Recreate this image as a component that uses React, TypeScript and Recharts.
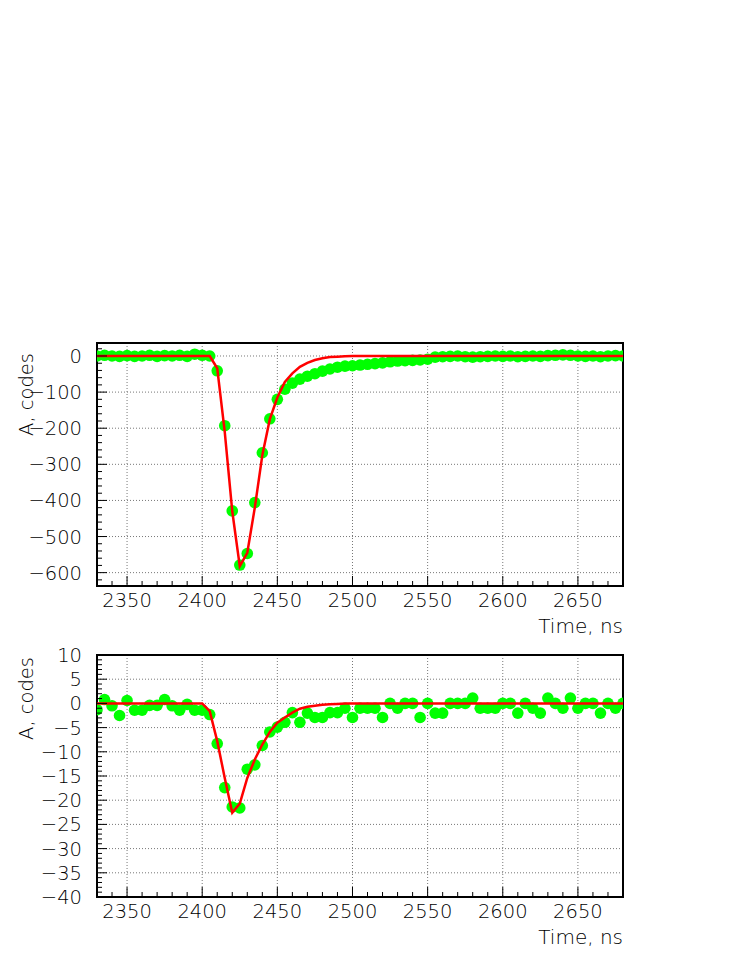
import React from "react";
import {
  CartesianGrid,
  ComposedChart,
  Label,
  Line,
  ReferenceArea,
  Scatter,
  XAxis,
  YAxis,
} from "recharts";

const FONT = "'DejaVu Sans', sans-serif";

// sample times, ns
const timeNs = [
  2330, 2335, 2340, 2345, 2350, 2355, 2360, 2365, 2370, 2375,
  2380, 2385, 2390, 2395, 2400, 2405, 2410, 2415, 2420, 2425,
  2430, 2435, 2440, 2445, 2450, 2455, 2460, 2465, 2470, 2475,
  2480, 2485, 2490, 2495, 2500, 2505, 2510, 2515, 2520, 2525,
  2530, 2535, 2540, 2545, 2550, 2555, 2560, 2565, 2570, 2575,
  2580, 2585, 2590, 2595, 2600, 2605, 2610, 2615, 2620, 2625,
  2630, 2635, 2640, 2645, 2650, 2655, 2660, 2665, 2670, 2675,
  2680,
];

// upper panel: measured amplitude and fit
const topAmp = [
  0, 2, 0, -1, 1, -1, 0, 2, -1, 1,
  0, 2, -1, 5, 2, 0, -41, -193, -429, -579,
  -547, -406, -268, -174, -120, -92, -75, -64, -56, -49,
  -42, -36, -31, -28, -27, -25, -23, -21, -19, -16,
  -14, -13, -12, -11, -9, -3, -2, -1, 0, -2,
  -3, -2, -1, 0, -1, 0, -2, -1, 0, -1,
  1, 2, 3, 2, 0, -1, 0, -2, 0, 1,
  0,
];
const topFit = [
  0, 0, 0, 0, 0, 0, 0, 0, 0, 0,
  0, 0, 0, 0, 0, 0, -34, -210, -430, -582,
  -545, -420, -275, -175, -115, -72, -48, -30, -19, -11,
  -6, -3, -2, -1, 0, 0, 0, 0, 0, 0,
  0, 0, 0, 0, 0, 0, 0, 0, 0, 0,
  0, 0, 0, 0, 0, 0, 0, 0, 0, 0,
  0, 0, 0, 0, 0, 0, 0, 0, 0, 0,
  0,
];

// lower panel: measured amplitude and fit
const bottomAmp = [
  -1.3, 0.8, -0.5, -2.5, 0.6, -1.4, -1.4, -0.4, -0.4, 0.8,
  -0.5, -1.4, -0.2, -1.4, -1.4, -2.3, -8.3, -17.4, -21.4, -21.6,
  -13.6, -12.7, -8.7, -5.9, -4.9, -3.9, -1.9, -3.9, -2.0, -2.9,
  -2.9, -1.9, -1.9, -1.0, -2.9, -1.0, -1.0, -1.0, -2.9, 0,
  -1.0, 0, 0, -2.9, 0, -2.0, -2.0, 0, 0, 0,
  1.1, -1.0, -1.0, -1.0, 0, 0, -2.0, 0, -1.0, -2.0,
  1.1, 0, -1.0, 1.1, -1.0, 0, 0, -2.0, 0, -1.0,
  0,
];
const bottomFit = [
  0, 0, 0, 0, 0, 0, 0, 0, 0, 0,
  0, 0, 0, 0, 0, -1.6, -7.8, -15.4, -22.6, -20.7,
  -15.4, -11.6, -8.5, -5.9, -4.0, -2.9, -1.9, -1.1, -0.7, -0.5,
  -0.3, -0.2, -0.1, 0, 0, 0, 0, 0, 0, 0,
  0, 0, 0, 0, 0, 0, 0, 0, 0, 0,
  0, 0, 0, 0, 0, 0, 0, 0, 0, 0,
  0, 0, 0, 0, 0, 0, 0, 0, 0, 0,
  0,
];

const timeLabels = [2350, 2400, 2450, 2500, 2550, 2600, 2650];
const topLabels = [0, -100, -200, -300, -400, -500, -600];
const bottomLabels = [10, 5, 0, -5, -10, -15, -20, -25, -30, -35, -40];

function range(from: number, to: number, step: number) {
  const out: number[] = [];
  for (let v = from; v <= to + 1e-9; v += step) out.push(Math.round(v * 100) / 100);
  return out;
}

const timeTicks = range(2330, 2680, 10);
const topTicks = range(-620, 20, 20);
const bottomTicks = range(-40, 10, 1);

const fmt = (v: number) => (v < 0 ? `\u2212${-v}` : `${v}`);

const textStyle = { fontFamily: FONT, fontSize: 19.5, fontWeight: 200, fill: "#000" };

function XTick(props: any) {
  const { x, y, payload, majors } = props;
  const major = majors.includes(payload.value);
  return (
    <g>
      <line x1={x} x2={x} y1={y} y2={y - (major ? 10 : 5)} stroke="#000" strokeWidth={1} />
      {major && (
        <text x={x} y={y + 21} textAnchor="middle" {...textStyle}>
          {payload.value}
        </text>
      )}
    </g>
  );
}

function YTick(props: any) {
  const { x, y, payload, majors } = props;
  const major = majors.includes(payload.value);
  return (
    <g>
      <line x1={x} x2={x + (major ? 10 : 5)} y1={y} y2={y} stroke="#000" strokeWidth={1} />
      {major && (
        <text x={x - 15} y={y + 7} textAnchor="end" {...textStyle}>
          {fmt(payload.value)}
        </text>
      )}
    </g>
  );
}

type PanelProps = {
  amp: number[];
  fit: number[];
  yDomain: [number, number];
  yTicks: number[];
  yLabels: number[];
  height: number;
  marginTop: number;
  xAxisHeight: number;
  titleShift: number;
};

function Panel({ amp, fit, yDomain, yTicks, yLabels, height, marginTop, xAxisHeight, titleShift }: PanelProps) {
  const rows = timeNs.map((t, i) => ({ t, amp: amp[i], fit: fit[i] }));
  return (
    <ComposedChart
      width={747}
      height={height}
      data={rows}
      margin={{ top: marginTop, right: 124, bottom: 0, left: 0 }}
    >
      <CartesianGrid
        horizontal
        vertical
        horizontalValues={yLabels}
        verticalValues={timeLabels}
        stroke="#777"
        strokeDasharray="1 2"
      />
      <XAxis
        dataKey="t"
        type="number"
        domain={[2330, 2680]}
        ticks={timeTicks}
        interval={0}
        allowDataOverflow
        axisLine={false}
        tickLine={false}
        tickSize={0}
        tickMargin={0}
        height={xAxisHeight}
        tick={(p: any) => <XTick {...p} majors={timeLabels} />}
      >
        <Label
          content={(p: any) => {
            const vb = p.viewBox;
            return (
              <text x={vb.x + vb.width} y={vb.y + 47} textAnchor="end" {...textStyle} fontSize={20}>
                Time, ns
              </text>
            );
          }}
        />
      </XAxis>
      <YAxis
        type="number"
        domain={yDomain}
        ticks={yTicks}
        interval={0}
        allowDataOverflow
        axisLine={false}
        tickLine={false}
        tickSize={0}
        tickMargin={0}
        width={97}
        tick={(p: any) => <YTick {...p} majors={yLabels} />}
      >
        <Label
          content={(p: any) => {
            const vb = p.viewBox;
            const ty = vb.y + titleShift;
            return (
              <text
                x={33}
                y={ty}
                textAnchor="end"
                transform={`rotate(-90, 33, ${ty})`}
                {...textStyle}
              >
                A, codes
              </text>
            );
          }}
        />
      </YAxis>
      <Scatter
        dataKey="amp"
        isAnimationActive={false}
        shape={(p: any) => <circle cx={p.cx} cy={p.cy} r={5.8} fill="#00ff00" />}
      />
      <Line
        dataKey="fit"
        type="linear"
        stroke="#ff0000"
        strokeWidth={2.5}
        dot={false}
        activeDot={false}
        isAnimationActive={false}
        zIndex={700}
      />
      <ReferenceArea
        x1={2330}
        x2={2680}
        y1={yDomain[0]}
        y2={yDomain[1]}
        fill="none"
        stroke="#000"
        strokeWidth={2}
        fillOpacity={0}
      />
    </ComposedChart>
  );
}

export default function App() {
  return (
    <div style={{ position: "absolute", left: 0, top: 0, width: 747, height: 967, background: "#fff" }}>
      <div style={{ position: "absolute", left: 0, top: 0 }}>
        <Panel
          amp={topAmp}
          fit={topFit}
          yDomain={[-637, 36]}
          yTicks={topTicks}
          yLabels={topLabels}
          height={640}
          marginTop={343}
          xAxisHeight={54}
          titleShift={10}
        />
      </div>
      <div style={{ position: "absolute", left: 0, top: 640 }}>
        <Panel
          amp={bottomAmp}
          fit={bottomFit}
          yDomain={[-40, 10]}
          yTicks={bottomTicks}
          yLabels={bottomLabels}
          height={327}
          marginTop={15}
          xAxisHeight={70}
          titleShift={2}
        />
      </div>
    </div>
  );
}
